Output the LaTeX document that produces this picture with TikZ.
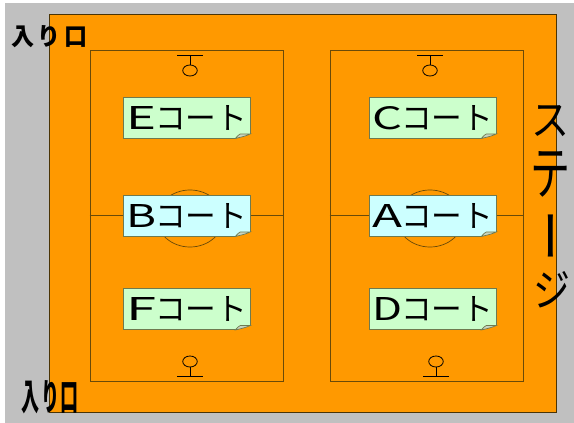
\documentclass[tikz,border=0pt]{standalone}
\usepackage{fontspec}
\usepackage{graphicx}
\usetikzlibrary{shapes.geometric,calc}
\newfontfamily\jpfont{Noto Sans CJK JP}
\newcommand{\jpbold}{\jpfont\bfseries}
\definecolor{bggray}{HTML}{C0C0C0}
\definecolor{floor}{HTML}{FF9900}
\definecolor{linebrown}{HTML}{6A4A08}
\definecolor{notegreen}{HTML}{CCFFCC}
\definecolor{notecyan}{HTML}{CCFFFF}
\definecolor{noteedge}{HTML}{6E7A50}
\definecolor{foldgray}{HTML}{C8D4C0}
\newcommand{\courttext}[1]{\resizebox{30pt}{23pt}{\jpfont #1}\hspace{-1pt}\resizebox{92pt}{24pt}{\jpfont コート}}
\newcommand{\stageline}[1]{\hbox to 40pt{\hss #1\hss}}
\tikzset{
  courtbox/.style={draw=linebrown,line width=0.8pt,minimum width=193pt,minimum height=331pt,inner sep=0pt},
  notebox/.style={draw=noteedge,line width=0.8pt,minimum width=126.5pt,minimum height=41pt,inner sep=0pt},
  courtline/.style={draw=linebrown,line width=0.7pt},
  goalring/.style={ellipse,draw=black,line width=0.8pt,minimum width=14.5pt,minimum height=11pt,inner sep=0pt},
  goalline/.style={draw=black,line width=0.8pt},
  centerring/.style={ellipse,draw=linebrown,line width=0.7pt,minimum width=66pt,minimum height=57pt,inner sep=0pt}
}
\begin{document}
\begin{tikzpicture}[x=1pt,y=-1pt]
\useasboundingbox (0,0) rectangle (574,423);
\fill[bggray] (5,3) rectangle (574,423);
\node[draw=linebrown!70!black,line width=0.8pt,fill=floor,minimum width=507pt,minimum height=398pt,inner sep=0pt] (hall) at (303.25,213) {};
\node[courtbox] (left) at (186.5,215.5) {};
\node[courtbox] (right) at (426.5,215.5) {};
\draw[courtline] (left.west |- 0,215) coordinate (lm1) -- (left.east |- 0,215) coordinate (lm2);
\draw[courtline] (right.west |- 0,215) coordinate (rm1) -- (right.east |- 0,215) coordinate (rm2);
\node[centerring] (lcirc) at (190,218.5) {};
\node[centerring] (rcirc) at (430,218.5) {};
% goals
\foreach \n/\x in {e/190,c/430}{
  \node[goalring] (ring\n) at (\x,70.5) {};
  \coordinate (bar\n) at (\x,55);
  \draw[goalline] ($(bar\n)+(-13,0)$) -- ($(bar\n)+(13,0)$);
  \draw[goalline] (bar\n) -- (ring\n);
}
\foreach \n/\x in {f/190,d/436}{
  \node[goalring] (ring\n) at (\x,361.5) {};
  \coordinate (bar\n) at (\x,376);
  \draw[goalline] ($(bar\n)+(-13,0)$) -- ($(bar\n)+(13,0)$);
  \draw[goalline] (bar\n) -- (ring\n);
}
% notes
\foreach \n/\t/\x/\y/\c in {E/E/186.75/117.5/notegreen,B/B/186.75/215.5/notecyan,F/F/186.75/309/notegreen,C/C/432.75/117.5/notegreen,A/A/432.75/215.5/notecyan,D/D/432.75/309/notegreen}{
  \node[notebox,fill=\c] (note\n) at (\x,\y) {\courttext{\t}};
  \coordinate (se) at (note\n.south east);
  \fill[floor] ($(se)+(0.5,-4.4)$) -- ($(se)+(0.5,0.5)$) -- ($(se)+(-15.2,0.5)$) -- cycle;
  \draw[noteedge,line width=0.7pt,fill=foldgray] ($(se)+(-15,0)$) .. controls ($(se)+(-13,-2)$) and ($(se)+(-12,-4)$) .. ($(se)+(-10,-4.5)$) -- ($(se)+(0,-4.5)$) .. controls ($(se)+(-4,-2.5)$) and ($(se)+(-8,-1.5)$) .. ($(se)+(-15,0)$) -- cycle;
}
% labels
\node[inner sep=0pt] (door1) at (49.5,37) {\resizebox{76pt}{20pt}{\jpbold 入\kern.15em り\kern.15em 口}};
\node[inner sep=0pt] (door2) at (50.5,397) {\resizebox{57pt}{30pt}{\jpbold 入\kern.08em り\kern.08em 口}};
\node[inner sep=0pt,anchor=north] (stage) at (550,105) {\vbox{\offinterlineskip
  \stageline{\resizebox{38pt}{30pt}{\jpfont ス}}\vskip15pt
  \stageline{\resizebox{40pt}{43pt}{\jpfont テ}}\vskip12pt
  \stageline{\hbox to 0pt{\kern-20pt\rotatebox{-90}{\jpfont\fontsize{53pt}{53pt}\selectfont ー}\hss}}\vskip9pt
  \stageline{\hspace{3pt}\resizebox{37pt}{35pt}{\jpfont ジ}}}};
\end{tikzpicture}
\end{document}
